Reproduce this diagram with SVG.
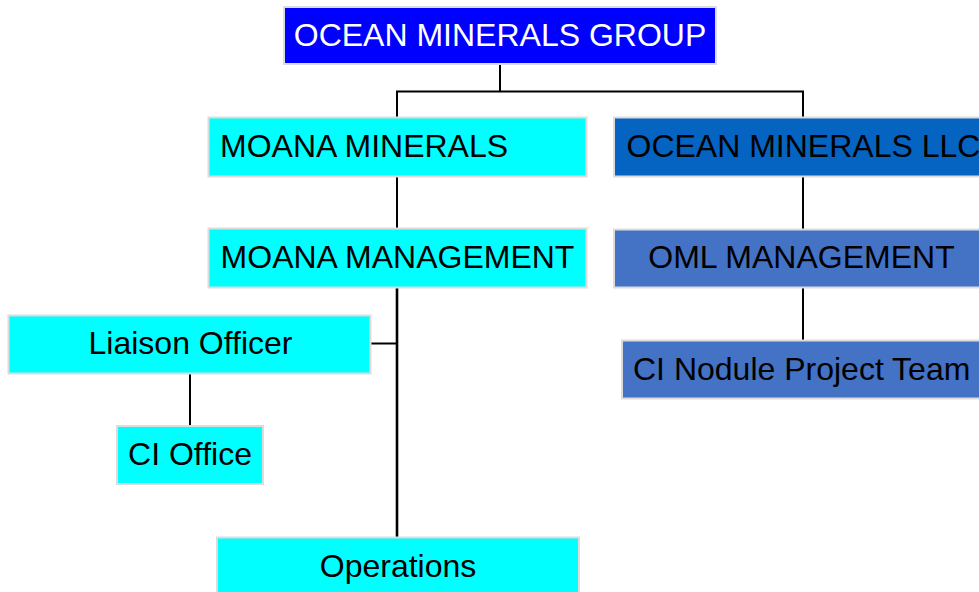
<svg xmlns="http://www.w3.org/2000/svg" width="979" height="592" viewBox="0 0 979 592">
<style>
.box{stroke:#DCDCDC;stroke-width:2}
.cyan{fill:#00FFFF}
.blue{fill:#0000FF}
.llc{fill:#0563C1}
.oml{fill:#4472C4}
text{font-family:"Liberation Sans",Arial,sans-serif;font-size:32px;fill:#000}
.c{text-anchor:middle}
.w{fill:#FFFFFF}
.ln{stroke:#000;stroke-width:2;fill:none}
.thick{stroke-width:2.6}
</style>
<rect width="979" height="592" fill="#FFFFFF"/>
<g id="connectors">
<path class="ln" d="M500,65 V91.5 M397,91.5 H803 M397,90.5 V117 M803,90.5 V117"/>
<path class="ln" d="M397,177 V228"/>
<path class="ln" d="M803,177 V229"/>
<path class="ln" d="M803,288 V340"/>
<path class="ln thick" d="M397,288 V537"/>
<path class="ln" d="M371,343.5 H397"/>
<path class="ln" d="M190,373 V426"/>
</g>
<g id="ocean-minerals-group">
<rect class="box blue" x="284" y="7" width="432" height="57"/>
<text class="c w" x="500" y="46">OCEAN MINERALS GROUP</text>
</g>
<g id="moana-minerals">
<rect class="box cyan" x="208.5" y="117.5" width="378" height="59"/>
<text x="220" y="157">MOANA MINERALS</text>
</g>
<g id="ocean-minerals-llc">
<rect class="box llc" x="614" y="117.5" width="380" height="59"/>
<text x="626.5" y="157">OCEAN MINERALS LLC</text>
</g>
<g id="moana-management">
<rect class="box cyan" x="208.5" y="228.5" width="378" height="59"/>
<text class="c" x="397.5" y="268">MOANA MANAGEMENT</text>
</g>
<g id="oml-management">
<rect class="box oml" x="614" y="229.5" width="380" height="58"/>
<text class="c" x="801.5" y="268">OML MANAGEMENT</text>
</g>
<g id="ci-nodule-project-team">
<rect class="box oml" x="622" y="340.5" width="372" height="58"/>
<text x="633" y="380">CI Nodule Project Team</text>
</g>
<g id="liaison-officer">
<rect class="box cyan" x="8.5" y="315.5" width="362" height="58"/>
<text class="c" x="190.5" y="354">Liaison Officer</text>
</g>
<g id="ci-office">
<rect class="box cyan" x="117" y="426" width="146" height="58"/>
<text class="c" x="190" y="465">CI Office</text>
</g>
<g id="operations">
<rect class="box cyan" x="217" y="537.5" width="362" height="70"/>
<text class="c" x="398" y="577">Operations</text>
</g>
</svg>
